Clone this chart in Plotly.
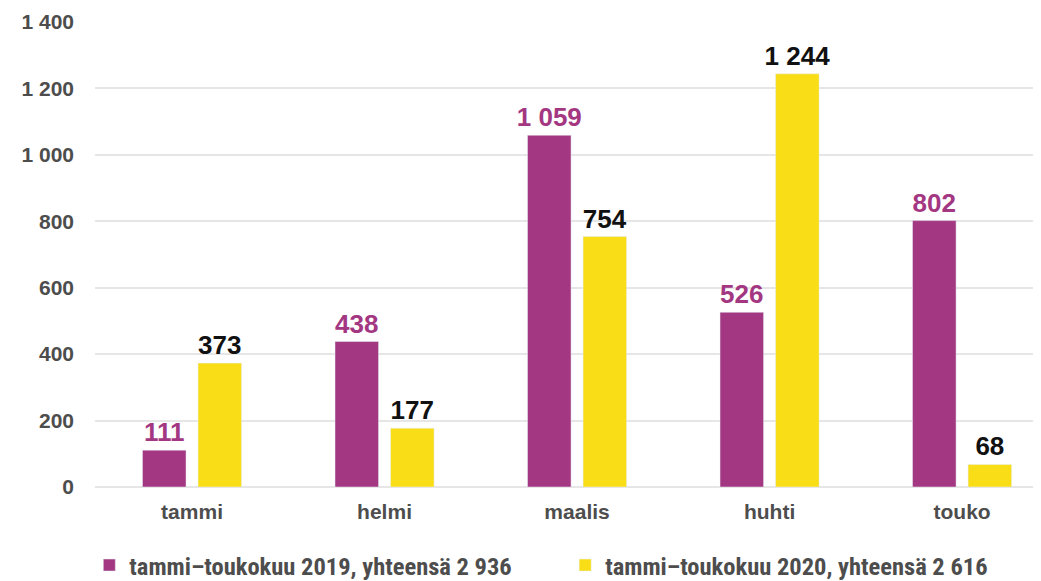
import plotly.graph_objects as go

months = ["tammi", "helmi", "maalis", "huhti", "touko"]
v2019 = [111, 438, 1059, 526, 802]
v2020 = [373, 177, 754, 1244, 68]
name2019 = "tammi–toukokuu 2019, yhteensä 2 936"
name2020 = "tammi–toukokuu 2020, yhteensä 2 616"
yticks = [0, 200, 400, 600, 800, 1000, 1200, 1400]

PURPLE = "#A43782"
YELLOW = "#F9DE17"
GRAY = "#4d4d4d"
FONT = "Liberation Sans, Arial, sans-serif"
NARROW = "Liberation Sans Narrow, Roboto Condensed, Liberation Sans, sans-serif"

fig = go.Figure()
fig.add_trace(go.Bar(
    x=months, y=v2019, name=name2019, marker_color=PURPLE, legend="legend",
    texttemplate="%{y:,}", textposition="outside", cliponaxis=False,
    constraintext="none",
    textfont=dict(family=FONT, size=26, color=PURPLE, weight="bold"),
))
fig.add_trace(go.Bar(
    x=months, y=v2020, name=name2020, marker_color=YELLOW, legend="legend2",
    texttemplate="%{y:,}", textposition="outside", cliponaxis=False,
    constraintext="none",
    textfont=dict(family=FONT, size=26, color="#111111", weight="bold"),
))

legfont = dict(family=NARROW, size=24.5, color=GRAY, weight="bold")
fig.update_layout(
    width=1041, height=581,
    margin=dict(l=87, r=8, t=14, b=102, autoexpand=False),
    plot_bgcolor="white", paper_bgcolor="white",
    separators=", ",
    barmode="group", bargap=0.423, bargroupgap=0.216,
    showlegend=True,
    legend=dict(orientation="h", x=-0.006, y=-0.168, xanchor="left", yanchor="middle",
                font=legfont, itemwidth=30, bgcolor="rgba(0,0,0,0)"),
    legend2=dict(orientation="h", x=0.497, y=-0.168, xanchor="left", yanchor="middle",
                 font=legfont, itemwidth=30, bgcolor="rgba(0,0,0,0)"),
)
fig.update_xaxes(range=[-0.504, 4.41], showgrid=False, showline=False, ticks="",
                 tickfont=dict(family=FONT, size=21, color=GRAY, weight="bold"),
                 ticklabelstandoff=10)
fig.update_yaxes(range=[0, 1400], tickvals=yticks, tickformat=",d",
                 showgrid=True, gridcolor="#e6e6e6", gridwidth=2, zeroline=True,
                 zerolinecolor="#e6e6e6", zerolinewidth=2, showline=False,
                 tickfont=dict(family=FONT, size=21, color=GRAY, weight="bold"),
                 ticklabelstandoff=20)

fig.write_html("out.html")
